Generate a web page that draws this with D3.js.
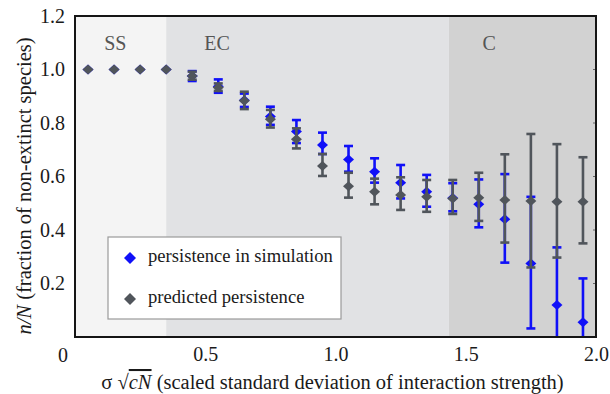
<!DOCTYPE html>
<html>
<head>
<meta charset="utf-8">
<script src="https://cdn.jsdelivr.net/npm/d3@7"></script>
<style>
  html, body { margin: 0; padding: 0; background: #ffffff; }
  svg { display: block; }
  text { font-family: "Liberation Serif", "Times New Roman", serif; }
</style>
</head>
<body>
<div id="chart"></div>
<script>
// ---------- data ----------
const xValues = [0.05, 0.15, 0.25, 0.35, 0.45, 0.55, 0.65, 0.75, 0.85, 0.95,
                 1.05, 1.15, 1.25, 1.35, 1.45, 1.55, 1.65, 1.75, 1.85, 1.95];

const simValues = [1.0, 1.0, 1.0, 1.0, 0.976, 0.936, 0.885, 0.824, 0.768, 0.718,
                   0.664, 0.618, 0.577, 0.543, 0.52, 0.496, 0.44, 0.275, 0.12, 0.055];
const simLow    = [1.0, 1.0, 1.0, 1.0, 0.957, 0.913, 0.86, 0.793, 0.725, 0.684,
                   0.618, 0.577, 0.518, 0.487, 0.47, 0.41, 0.278, 0.032, -0.1, -0.11];
const simHigh   = [1.0, 1.0, 1.0, 1.0, 0.994, 0.963, 0.91, 0.861, 0.811, 0.764,
                   0.714, 0.668, 0.643, 0.606, 0.575, 0.589, 0.609, 0.524, 0.335, 0.219];

const predValues = [1.0, 1.0, 1.0, 1.0, 0.976, 0.933, 0.883, 0.814, 0.739, 0.639,
                    0.564, 0.543, 0.531, 0.524, 0.518, 0.521, 0.512, 0.508, 0.506, 0.506];
const predLow    = [1.0, 1.0, 1.0, 1.0, 0.962, 0.92, 0.852, 0.783, 0.705, 0.602,
                    0.521, 0.496, 0.475, 0.468, 0.46, 0.434, 0.353, 0.26, 0.297, 0.35];
const predHigh   = [1.0, 1.0, 1.0, 1.0, 0.992, 0.948, 0.917, 0.849, 0.78, 0.684,
                    0.614, 0.592, 0.597, 0.587, 0.587, 0.614, 0.683, 0.759, 0.721, 0.672];

const regionNames  = ["SS", "EC", "C"];
const regionStarts = [0, 0.35, 1.435];
const regionEnds   = [0.35, 1.435, 2.0];
const regionLabelX = [0.155, 0.545, 1.59];

const xTicks = [0.5, 1.0, 1.5, 2.0];
const yTicks = [0.2, 0.4, 0.6, 0.8, 1.0, 1.2];

const seriesNames = ["persistence in simulation", "predicted persistence"];

// ---------- layout ----------
const W = 610, H = 394;
const M = { left: 75, right: 14, top: 16, bottom: 57 };
const iw = W - M.left - M.right, ih = H - M.top - M.bottom;

const regionColors = ["#f4f4f4", "#e1e2e4", "#d2d2d2"];
const blue = "#1010f8", gray = "#50555b";
const FONT = '"Liberation Serif", "Times New Roman", serif';

const svg = d3.select("#chart").append("svg").attr("width", W).attr("height", H)
  .attr("font-family", FONT);
const g = svg.append("g").attr("transform", `translate(${M.left},${M.top})`);

const x = d3.scaleLinear().domain([0, 2]).range([0, iw]);
const y = d3.scaleLinear().domain([0, 1.2]).range([ih, 0]);

svg.append("defs").append("clipPath").attr("id", "plotclip")
  .append("rect").attr("width", iw).attr("height", ih);

// regions
g.selectAll("rect.region").data(regionNames).join("rect")
  .attr("class", "region")
  .attr("x", (d, i) => x(regionStarts[i]))
  .attr("y", 0)
  .attr("width", (d, i) => x(regionEnds[i]) - x(regionStarts[i]))
  .attr("height", ih)
  .attr("fill", (d, i) => regionColors[i]);

g.selectAll("text.region").data(regionNames).join("text")
  .attr("class", "region")
  .attr("x", (d, i) => x(regionLabelX[i]))
  .attr("y", 34)
  .attr("text-anchor", "middle")
  .attr("font-size", 20)
  .attr("fill", "#555")
  .text(d => d);

// right side small inner ticks
g.selectAll("line.rtick").data(yTicks).join("line")
  .attr("class", "rtick")
  .attr("x1", iw).attr("x2", iw - 3)
  .attr("y1", d => y(d)).attr("y2", d => y(d))
  .attr("stroke", "#666").attr("stroke-width", 1);

// series drawing
const plot = g.append("g").attr("clip-path", "url(#plotclip)");
const capHalf = 4.5;

function drawSeries(vals, lows, highs, color, cls) {
  const idx = d3.range(xValues.length).filter(i => highs[i] - lows[i] > 0.001);
  const sg = plot.append("g").attr("class", cls);
  sg.selectAll("line.bar").data(idx).join("line")
    .attr("class", "bar")
    .attr("x1", i => x(xValues[i])).attr("x2", i => x(xValues[i]))
    .attr("y1", i => y(lows[i])).attr("y2", i => y(highs[i]))
    .attr("stroke", color).attr("stroke-width", 2.6);
  sg.selectAll("line.capLow").data(idx).join("line")
    .attr("class", "capLow")
    .attr("x1", i => x(xValues[i]) - capHalf).attr("x2", i => x(xValues[i]) + capHalf)
    .attr("y1", i => y(lows[i])).attr("y2", i => y(lows[i]))
    .attr("stroke", color).attr("stroke-width", 2.6);
  sg.selectAll("line.capHigh").data(idx).join("line")
    .attr("class", "capHigh")
    .attr("x1", i => x(xValues[i]) - capHalf).attr("x2", i => x(xValues[i]) + capHalf)
    .attr("y1", i => y(highs[i])).attr("y2", i => y(highs[i]))
    .attr("stroke", color).attr("stroke-width", 2.6);
  sg.selectAll("path.pt").data(d3.range(xValues.length)).join("path")
    .attr("class", "pt")
    .attr("transform", i => `translate(${x(xValues[i])},${y(vals[i])})`)
    .attr("d", "M-5.5,0L0,-5L5.5,0L0,5Z")
    .attr("fill", color);
}
drawSeries(simValues, simLow, simHigh, blue, "sim");
drawSeries(predValues, predLow, predHigh, gray, "pred");

// frame
g.append("rect").attr("x", 0).attr("y", 0).attr("width", iw).attr("height", ih)
  .attr("fill", "none").attr("stroke", "#151515").attr("stroke-width", 2);

// axes
const xAxis = d3.axisBottom(x).tickValues(xTicks).tickSize(0).tickPadding(10)
  .tickFormat(d3.format(".1f"));
const xg = g.append("g").attr("transform", `translate(0,${ih})`).call(xAxis)
  .attr("font-family", FONT).attr("font-size", 20);
xg.select(".domain").remove();
xg.selectAll("text").attr("fill", "#1a1a1a");

const yAxis = d3.axisLeft(y).tickValues(yTicks).tickSize(0).tickPadding(10)
  .tickFormat(d3.format(".1f"));
const yg = g.append("g").call(yAxis)
  .attr("font-family", FONT).attr("font-size", 20);
yg.select(".domain").remove();
yg.selectAll("text").attr("fill", "#1a1a1a");

// shared origin label
g.append("text").attr("x", -12).attr("y", ih + 24.5)
  .attr("text-anchor", "middle").attr("font-size", 20).attr("fill", "#1a1a1a").text("0");

// axis titles
const xt = svg.append("text").attr("x", M.left + iw / 2 - 3).attr("y", 389)
  .attr("text-anchor", "middle").attr("font-size", 20.5).attr("fill", "#1a1a1a");
xt.append("tspan").text("σ √");
xt.append("tspan").attr("font-style", "italic").style("text-decoration", "overline").text("cN");
xt.append("tspan").text(" (scaled standard deviation of interaction strength)");

const yt = svg.append("text")
  .attr("transform", `translate(31,186) rotate(-90)`)
  .attr("text-anchor", "middle").attr("font-size", 20.5).attr("fill", "#1a1a1a");
yt.append("tspan").attr("font-style", "italic").text("n/N");
yt.append("tspan").text(" (fraction of non-extinct species)");

// legend
const lg = svg.append("g").attr("transform", "translate(108,237)");
lg.append("rect").attr("width", 233).attr("height", 82)
  .attr("fill", "#ffffff").attr("stroke", "#9a9a9a").attr("stroke-width", 1.2);
const legColors = [blue, gray];
const li = lg.selectAll("g.item").data(seriesNames).join("g")
  .attr("class", "item")
  .attr("transform", (d, i) => `translate(0,${21 + i * 41})`);
li.append("path").attr("d", "M-6,0L0,-6L6,0L0,6Z")
  .attr("transform", "translate(22,0)")
  .attr("fill", (d, i) => legColors[i]);
li.append("text").attr("x", 40).attr("y", 4)
  .attr("font-size", 18.6).attr("fill", "#1a1a1a").text(d => d);
</script>
</body>
</html>
